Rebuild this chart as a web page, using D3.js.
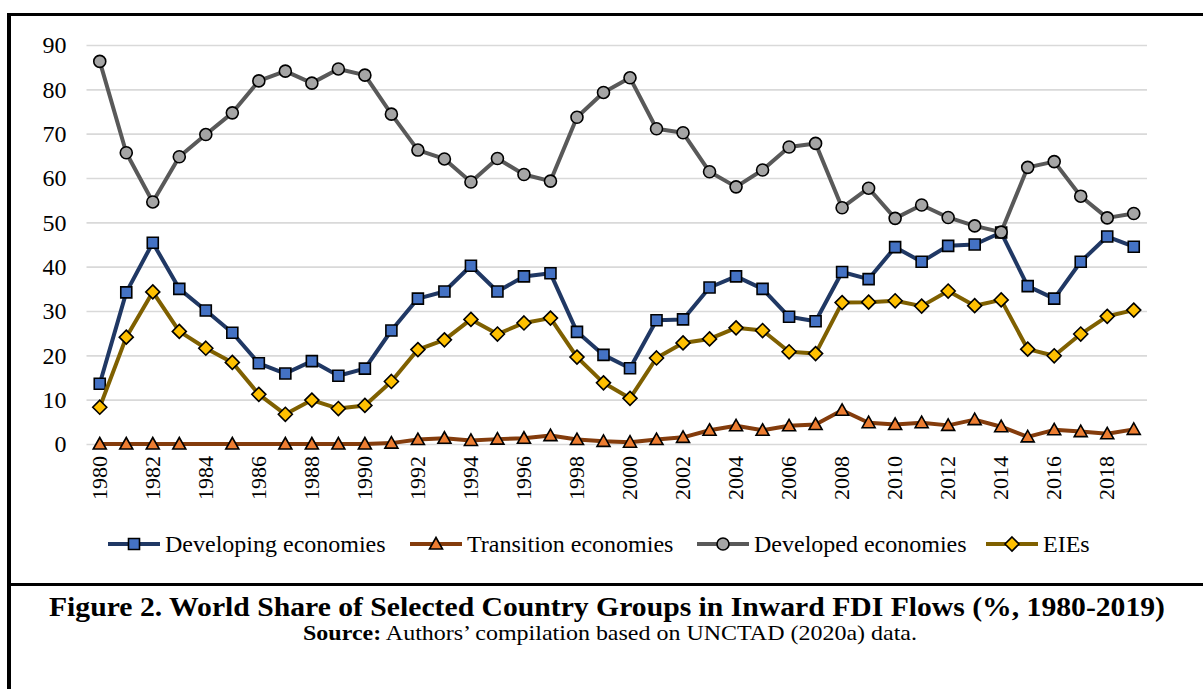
<!DOCTYPE html>
<html><head><meta charset="utf-8">
<script src="https://cdn.jsdelivr.net/npm/d3@7"></script>
<style>body{margin:0;background:#fff}svg{display:block}</style>
</head><body>
<svg id="c" width="1203" height="689"></svg>
<script>
// ---- data ----
const years = d3.range(1980, 2020);
const developing = [13.6,34.2,45.4,35.0,30.1,25.1,18.2,15.9,18.7,15.4, 17.0,25.6,32.8,34.4,40.2,34.4,37.8,38.5,25.3,20.1, 17.1,27.9,28.1,35.3,37.8,35.0,28.7,27.7,38.8,37.2, 44.4,41.1,44.7,45.0,47.7,35.6,32.8,41.1,46.8,44.5];
const transition = [0,0,0,0,null,0,null,0,0,0, 0,0.2,1.0,1.3,0.8,1.1,1.3,1.9,1.0,0.6, 0.4,1.0,1.5,3.1,4.1,3.1,4.1,4.4,7.6,4.8, 4.4,4.8,4.2,5.5,3.9,1.6,3.2,2.8,2.3,3.3];
const developed = [86.3,65.7,54.6,64.8,69.8,74.7,81.9,84.1,81.4,84.6, 83.2,74.4,66.3,64.3,59.1,64.4,60.8,59.3,73.7,79.3, 82.6,71.1,70.2,61.4,58.0,61.8,67.0,67.8,53.3,57.7, 50.9,53.9,51.1,49.2,47.8,62.4,63.7,55.9,51.0,52.0];
const eies = [8.3,24.1,34.3,25.4,21.6,18.4,11.2,6.7,9.9,8.0, 8.7,14.1,21.3,23.5,28.1,24.8,27.3,28.4,19.6,13.8, 10.3,19.4,22.8,23.7,26.2,25.6,20.8,20.4,31.9,32.0, 32.3,31.1,34.5,31.2,32.5,21.4,19.9,24.8,28.8,30.2];
const yTicks = [0,10,20,30,40,50,60,70,80,90];
const xTickYears = years.filter((d,i) => i % 2 === 0);
const seriesNames = ["Developing economies","Transition economies","Developed economies","EIEs"];
const titleText = "Figure 2. World Share of Selected Country Groups in Inward FDI Flows (%, 1980-2019)";
const sourceLabel = "Source:";
const sourceText = " Authors\u2019 compilation based on UNCTAD (2020a) data.";

// ---- styles ----
const styles = [
  {line:"#203864", fill:"#4472C4", shape:"square"},
  {line:"#843C0C", fill:"#ED7D31", shape:"triangle"},
  {line:"#595959", fill:"#A5A5A5", shape:"circle"},
  {line:"#7F6000", fill:"#FFC000", shape:"diamond"}
];
const seriesData = [developing, transition, developed, eies];
const FONT = "'Liberation Serif','Times New Roman',serif";

const svg = d3.select("#c");
const L = 86.5, R = 1147, T = 45, B = 444;
const x = d3.scaleBand().domain(years).range([L, R]);
const xc = d => x(d) + x.bandwidth()/2;
const y = d3.scaleLinear().domain([0, 90]).range([B, T]);

function markerPath(shape){
  if (shape === "square") return "M-5.5,-5.5H5.5V5.5H-5.5Z";
  if (shape === "triangle") return "M0,-6.5L6.5,5L-6.5,5Z";
  if (shape === "diamond") return "M0,-7L7,0L0,7L-7,0Z";
  return d3.symbol(d3.symbolCircle, 113)();
}

// frame
svg.append("line").attr("x1",7).attr("x2",1203).attr("y1",14.5).attr("y2",14.5).attr("stroke","#000").attr("stroke-width",3);
svg.append("line").attr("x1",9).attr("x2",9).attr("y1",13).attr("y2",689).attr("stroke","#000").attr("stroke-width",4);
svg.append("line").attr("x1",7).attr("x2",1203).attr("y1",584.5).attr("y2",584.5).attr("stroke","#000").attr("stroke-width",3);

// gridlines
svg.append("g").attr("transform",`translate(${L},0)`)
  .call(d3.axisLeft(y).tickValues(yTicks).tickSize(-(R-L)).tickFormat(""))
  .call(g => g.select(".domain").remove())
  .call(g => g.selectAll("line").attr("stroke","#D9D9D9").attr("stroke-width",1.6));

// y axis labels
svg.append("g").attr("transform",`translate(${L},0)`)
  .call(d3.axisLeft(y).tickValues(yTicks).tickSize(0).tickPadding(20))
  .call(g => g.select(".domain").remove())
  .call(g => g.selectAll("text").attr("font-family",FONT).attr("font-size",24).attr("fill","#000"));

// x axis labels
svg.append("g").attr("transform",`translate(0,${B})`)
  .call(d3.axisBottom(x).tickValues(xTickYears).tickSize(0))
  .call(g => g.select(".domain").remove())
  .call(g => g.selectAll("text")
      .attr("font-family",FONT).attr("font-size",22).attr("fill","#000")
      .attr("text-anchor","end").attr("transform","rotate(-90)")
      .attr("x",-12).attr("y",0).attr("dy","0.33em"));

// series
const lineGen = d3.line().x(d => xc(d.year)).y(d => y(d.v));
seriesData.forEach((arr, i) => {
  const pts = years.map((yr, j) => ({year: yr, v: arr[j]})).filter(d => d.v !== null);
  const s = styles[i];
  const g = svg.append("g");
  g.append("path").datum(pts).attr("d", lineGen)
    .attr("fill","none").attr("stroke", s.line).attr("stroke-width",4).attr("stroke-linejoin","round");
  g.selectAll("path.m").data(pts).join("path").attr("class","m")
    .attr("d", markerPath(s.shape))
    .attr("transform", d => `translate(${xc(d.year)},${y(d.v)})`)
    .attr("fill", s.fill).attr("stroke","#000").attr("stroke-width",1.6);
});

// legend
const legendX = [108, 410, 697, 986];
const ly = 544;
seriesNames.forEach((name, i) => {
  const s = styles[i];
  const g = svg.append("g").attr("transform",`translate(${legendX[i]},${ly})`);
  g.append("line").attr("x1",0).attr("x2",52).attr("stroke",s.line).attr("stroke-width",4);
  g.append("path").attr("d", markerPath(s.shape)).attr("transform","translate(26,0)")
    .attr("fill",s.fill).attr("stroke","#000").attr("stroke-width",1.6);
  g.append("text").attr("x",57).attr("y",0).attr("dy","0.35em")
    .attr("font-family",FONT).attr("font-size",24).attr("fill","#000").text(name);
});

// caption
svg.append("text").attr("x",607).attr("y",616).attr("text-anchor","middle")
  .attr("font-family",FONT).attr("font-size",27).attr("font-weight","bold").attr("fill","#000")
  .attr("textLength",1116).attr("lengthAdjust","spacingAndGlyphs")
  .text(titleText);
const src = svg.append("text").attr("x",610).attr("y",640).attr("text-anchor","middle")
  .attr("font-family",FONT).attr("font-size",21).attr("fill","#000")
  .attr("textLength",614).attr("lengthAdjust","spacingAndGlyphs");
src.append("tspan").attr("font-weight","bold").text(sourceLabel);
src.append("tspan").text(sourceText);
</script>
</body></html>
